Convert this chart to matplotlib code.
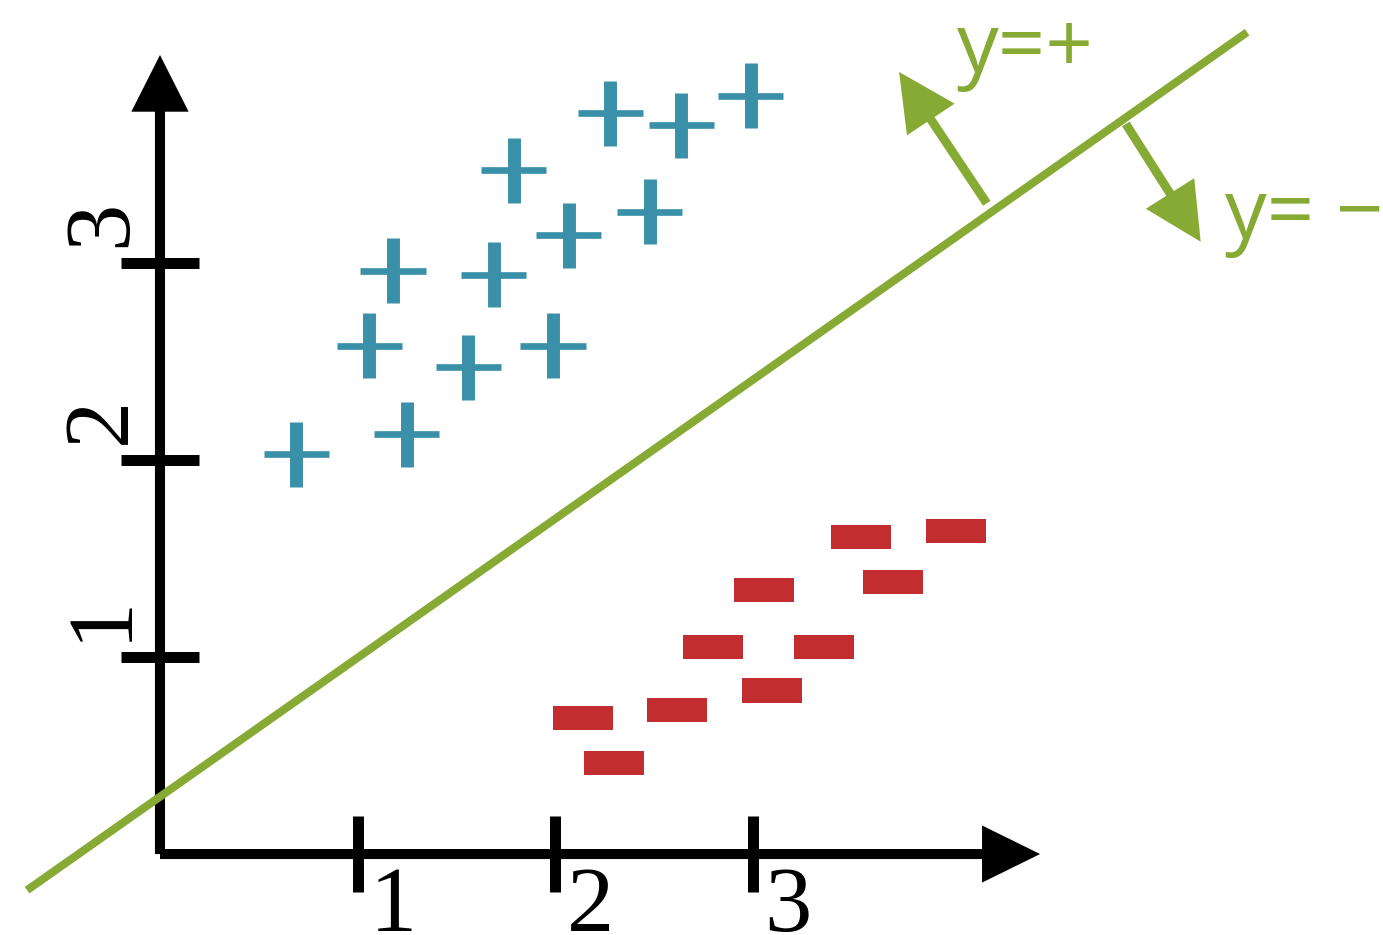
import matplotlib.pyplot as plt
from matplotlib.patches import Rectangle

# class +1 samples
plus_x = [0.69, 1.25, 1.06, 1.18, 1.56, 1.69, 1.99, 1.79, 2.07, 2.48, 2.28, 2.64, 2.99]
plus_y = [2.03, 2.13, 2.58, 2.96, 2.47, 2.94, 2.58, 3.47, 3.14, 3.26, 3.76, 3.70, 3.85]

# class -1 samples
minus_x = [3.55, 4.03, 3.71, 3.06, 2.80, 3.36, 3.10, 2.14, 2.62, 2.30]
minus_y = [1.61, 1.64, 1.38, 1.34, 1.05, 1.05, 0.83, 0.69, 0.73, 0.46]

# separating line  y = slope * x + intercept
slope = 0.705
intercept = 0.291
line_x = [-0.673, 5.504]

ticks = [1, 2, 3]
tick_labels = ['1', '2', '3']
side_labels = ['y=+', 'y= \u2212']

GREEN = '#86aa34'
TEAL = '#3a90a8'
RED = '#c22d30'

fig = plt.figure(figsize=(13.83, 9.35), dpi=100)
ax = fig.add_axes([0, 0, 1, 1])
ax.set_xlim(-0.810, 6.192)
ax.set_ylim(-0.411, 4.335)
ax.axis('off')

# axes with arrow heads
ax.arrow(0, 0, 4.456, 0, width=0.051, head_width=0.29, head_length=0.294,
         length_includes_head=True, fc='black', ec='none', zorder=2)
ax.arrow(0, 0, 0, 4.056, width=0.051, head_width=0.29, head_length=0.288,
         length_includes_head=True, fc='black', ec='none', zorder=2)

# tick marks and labels
for t, lab in zip(ticks, tick_labels):
    ax.plot([t, t], [-0.195, 0.195], color='black', lw=7.9, solid_capstyle='butt', zorder=2)
    ax.plot([-0.195, 0.195], [t, t], color='black', lw=7.9, solid_capstyle='butt', zorder=2)
    ax.text(t + 0.18, -0.391, lab, fontsize=68, family='Liberation Serif',
            ha='center', va='baseline')
    ax.text(-0.177, t + 0.2, lab, fontsize=68, family='Liberation Serif',
            rotation=90, rotation_mode='anchor', ha='center', va='baseline')

# plus markers: thick vertical bar, thinner horizontal bar
for x, y in zip(plus_x, plus_y):
    ax.plot([x, x], [y - 0.165, y + 0.165], color=TEAL, lw=9.3, solid_capstyle='butt')
    ax.plot([x - 0.165, x + 0.165], [y, y], color=TEAL, lw=4.8, solid_capstyle='butt')

# minus markers
w, h = 0.304, 0.122
for x, y in zip(minus_x, minus_y):
    ax.add_patch(Rectangle((x - w / 2, y - h / 2), w, h, color=RED, lw=0))

# decision boundary
line_y = [slope * x + intercept for x in line_x]
ax.plot(line_x, line_y, color=GREEN, lw=5.8, solid_capstyle='butt', zorder=3)

# normal direction arrows
ax.arrow(4.186, 3.303, 3.742 - 4.186, 3.970 - 3.303, width=0.045, head_width=0.29,
         head_length=0.29, length_includes_head=True, fc=GREEN, ec='none')
ax.arrow(4.890, 3.706, 5.269 - 4.890, 3.108 - 3.706, width=0.045, head_width=0.29,
         head_length=0.29, length_includes_head=True, fc=GREEN, ec='none')

ax.text(4.035, 3.97, side_labels[0], fontsize=60, family='Open Sans', color=GREEN,
        ha='left', va='baseline')
ax.text(5.392, 3.125, side_labels[1], fontsize=60, family='Open Sans', color=GREEN,
        ha='left', va='baseline')

fig.savefig('out.png', dpi=100)
